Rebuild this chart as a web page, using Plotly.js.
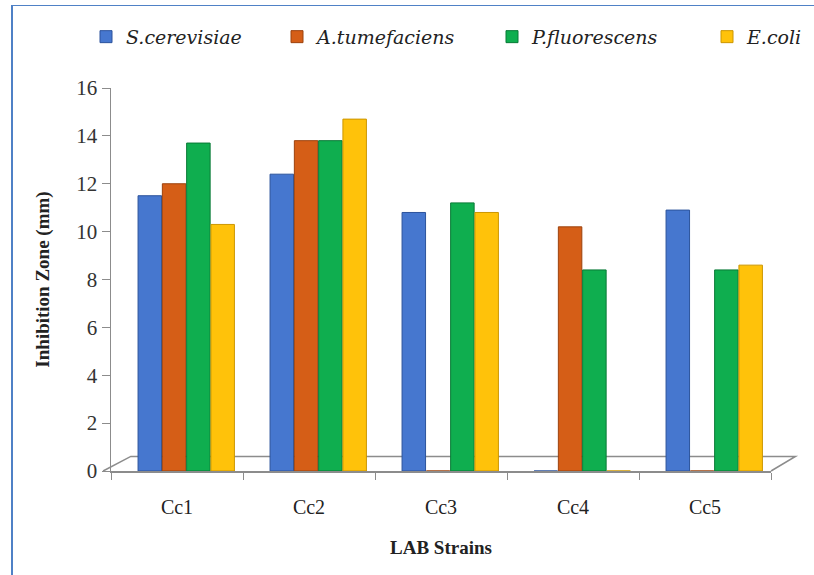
<!DOCTYPE html>
<html>
<head>
<meta charset="utf-8">
<script src="https://cdn.plot.ly/plotly-3.0.1.min.js"></script>
<style>
  html, body { margin: 0; padding: 0; background: #fff; }
  #wrap { position: relative; width: 814px; height: 575px; overflow: hidden; }
  #chart { width: 814px; height: 575px; }
  #frame { position: absolute; left: 11px; top: 5px; width: 820px; height: 600px;
           border-left: 2px solid #4f81c6; border-top: 1.5px solid #4f81c6;
           box-sizing: border-box; pointer-events: none; }
</style>
</head>
<body>
<div id="wrap">
  <div id="chart"></div>
  <div id="frame"></div>
</div>
<script>
const categories = ["Cc1", "Cc2", "Cc3", "Cc4", "Cc5"];
const seriesNames = ["S.cerevisiae", "A.tumefaciens", "P.fluorescens", "E.coli"];
const sCerevisiae = [11.5, 12.4, 10.8, 0, 10.9];
const aTumefaciens = [12.0, 13.8, 0, 10.2, 0];
const pFluorescens = [13.7, 13.8, 11.2, 8.4, 8.4];
const eColi = [10.3, 14.7, 10.8, 0, 8.6];
const yTicks = [0, 2, 4, 6, 8, 10, 12, 14, 16];

const colors = ["#4677cf", "#d55e17", "#0fae4f", "#ffc20a"];
const lines = ["#2c539c", "#9c420d", "#087a36", "#cc9600"];
const allValues = [sCerevisiae, aTumefaciens, pFluorescens, eColi];

// style: bar width and 3D-like shift of the group within each category
const barW = 0.178;
const groupStart = -0.295;
const barStep = 0.184;

const legendIds = ["legend", "legend2", "legend3", "legend4"];
const legendX = [86, 277, 492, 707]; // container px (style)

const traces = allValues.map((vals, i) => ({
  type: "bar",
  name: seriesNames[i],
  x: categories,
  y: vals,
  width: barW,
  offset: groupStart + i * barStep,
  legend: legendIds[i],
  marker: { color: colors[i], line: { color: lines[i], width: 1 } },
  hoverinfo: "x+y+name"
}));

const serif = "'Liberation Serif', 'Times New Roman', serif";
const legendFont = "'DejaVu Serif', serif";

const layout = {
  width: 814, height: 575,
  margin: { l: 111, r: 43, t: 88, b: 104 },
  paper_bgcolor: "#ffffff",
  plot_bgcolor: "#ffffff",
  barmode: "overlay",
  font: { family: serif, color: "#222", size: 17 },
  showlegend: true,
  xaxis: {
    type: "category",
    showline: true, linecolor: "#8c8c8c", linewidth: 1.5,
    ticks: "outside", tickson: "boundaries", ticklen: 7, tickcolor: "#8c8c8c",
    tickfont: { family: serif, size: 20, color: "#222" },
    ticklabelstandoff: 17,
    showgrid: false, zeroline: false,
    title: { text: "<b>LAB Strains</b>", font: { family: serif, size: 19, color: "#222" }, standoff: 24 }
  },
  yaxis: {
    range: [0, 16],
    tickvals: yTicks,
    showline: true, linecolor: "#8c8c8c", linewidth: 1.5,
    ticks: "outside", ticklen: 8, tickcolor: "#8c8c8c",
    tickfont: { family: serif, size: 21, color: "#333" },
    showgrid: false, zeroline: false,
    title: { text: "<b>Inhibition Zone (mm)</b>", font: { family: serif, size: 19, color: "#222" }, standoff: 21 }
  },
  shapes: [
    { type: "path", xref: "paper", yref: "paper",
      path: "M -0.012 0 L 0.03 0.038 L 1.037 0.038 L 1.0 0",
      line: { color: "#8c8c8c", width: 1.5 }, fillcolor: "rgba(0,0,0,0)", layer: "below" }
  ]
};

legendIds.forEach((id, i) => {
  layout[id] = {
    orientation: "h", xref: "container", x: legendX[i] / 814, xanchor: "left",
    yref: "container", y: 0.936, yanchor: "middle",
    font: { family: legendFont, size: 19, style: "italic", color: "#222" },
    itemwidth: 30, itemclick: false, bgcolor: "rgba(0,0,0,0)"
  };
});

Plotly.newPlot("chart", traces, layout, { displayModeBar: false, staticPlot: true });
</script>
</body>
</html>
